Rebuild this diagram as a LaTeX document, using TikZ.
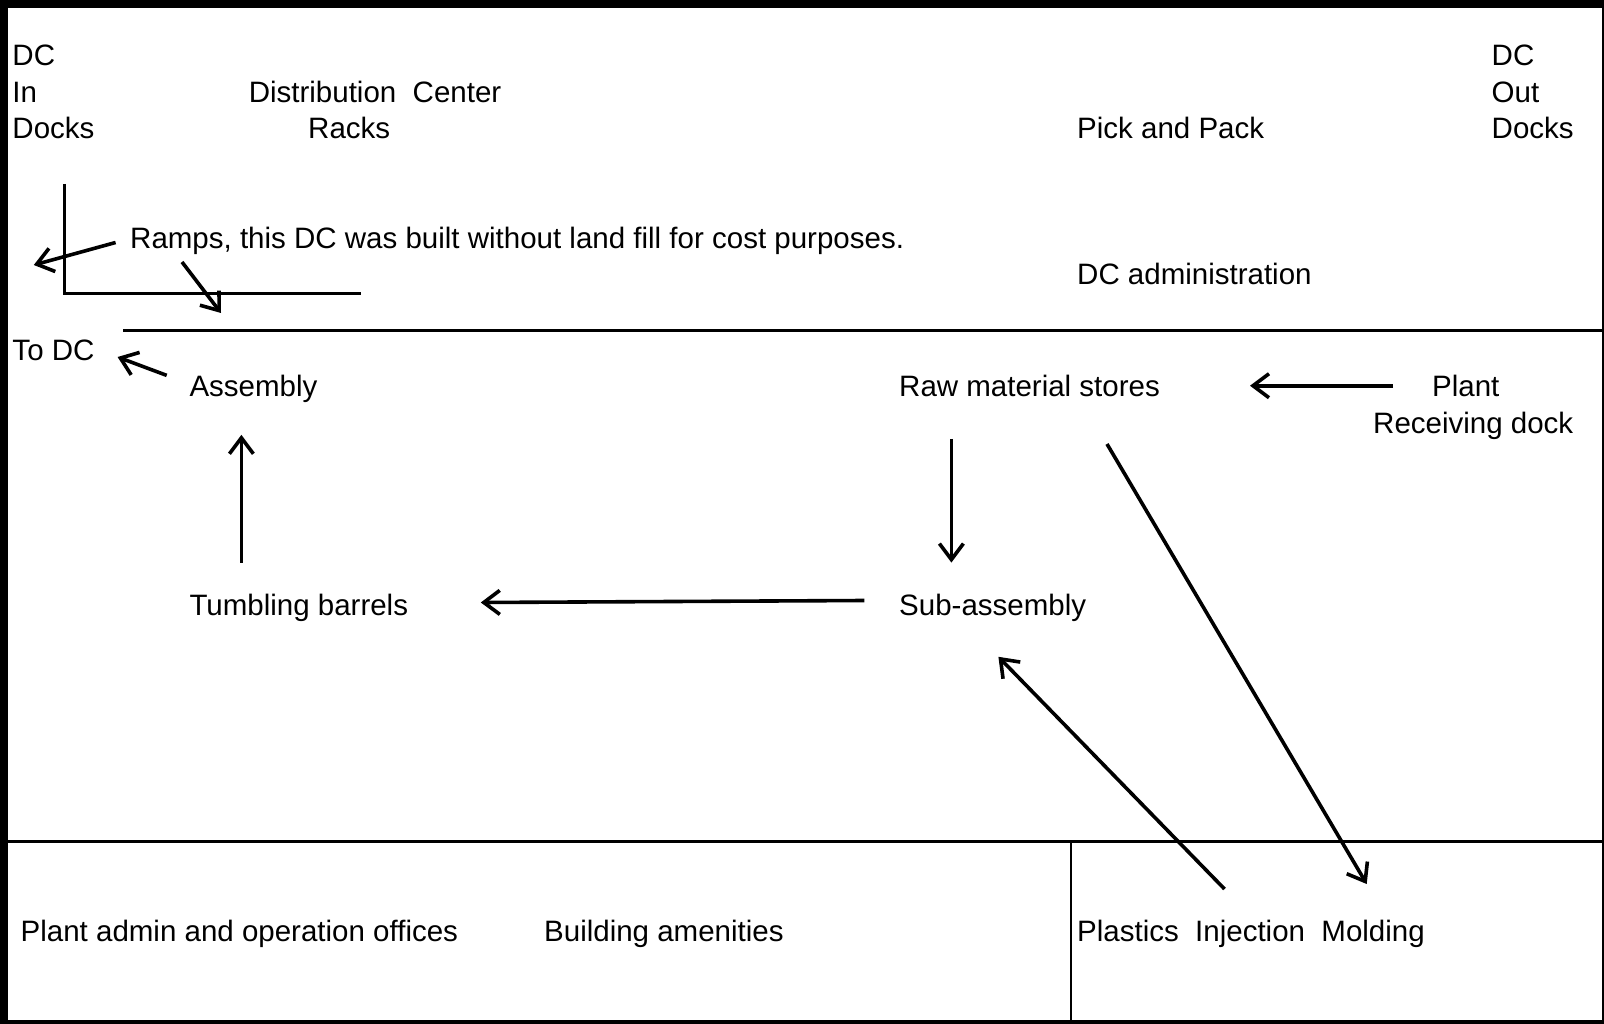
\documentclass[tikz,border=0pt]{standalone}
\usepackage{fontspec}
\setmainfont{Liberation Sans}
\usetikzlibrary{arrows.meta}
\begin{document}
\begin{tikzpicture}[x=1pt,y=-1pt,
  lbl/.style={anchor=base west,inner sep=0pt,font=\fontsize{29.5}{34}\selectfont},
  wall/.style={line width=3pt},
  flow/.style={line width=3.6pt,-{Straight Barb[length=16pt,width=24pt,line width=3.6pt]}}]
  \useasboundingbox (0,0) rectangle (1604,1024);
  \clip (0,0) rectangle (1604,1024);
  % outer building wall
  \draw[line width=8pt] (4,4) rectangle (1606,1024);
  % inner walls
  \draw[wall] (123,330.5) -- (1604,330.5);
  \draw[wall] (0,841.3) -- (1604,841.3);
  \draw[line width=2.6pt] (1071,841) -- (1071,1024);
  % ramp outline
  \draw[line width=2.8pt] (64.5,184) -- (64.5,293.6) -- (361,293.6);

  % labels
  \node[lbl] (dcin1) at (12.3,66) {DC};
  \node[lbl] (dcin2) at (12.3,102.5) {In};
  \node[lbl] (dcin3) at (12.3,138.5) {Docks};
  \node[lbl] (dist) at (248.6,102.5) {Distribution\ \ Center};
  \node[lbl] (racks) at (308,138.5) {Racks};
  \node[lbl] (pick) at (1077,138.5) {Pick and Pack};
  \node[lbl] (dcout1) at (1491.5,66) {DC};
  \node[lbl] (dcout2) at (1491.5,102.5) {Out};
  \node[lbl] (dcout3) at (1491.5,138.5) {Docks};
  \node[lbl] (ramps) at (130,249) {Ramps, this DC was built without land fill for cost purposes.};
  \node[lbl] (dcadmin) at (1077,285) {DC administration};
  \node[lbl] (todc) at (12.3,360.6) {To DC};
  \node[lbl] (assembly) at (189.3,396.4) {Assembly};
  \node[lbl] (raw) at (899,396.4) {Raw material stores};
  \node[lbl] (plant) at (1432,396.4) {Plant};
  \node[lbl] (recv) at (1373,433) {Receiving dock};
  \node[lbl] (tumbling) at (189.3,615.3) {Tumbling barrels};
  \node[lbl] (sub) at (899,615.3) {Sub-assembly};
  \node[lbl] (offices) at (20.5,941.6) {Plant admin and operation offices};
  \node[lbl] (amenities) at (544,941.6) {Building amenities};
  \node[lbl] (plastics) at (1077,941.6) {Plastics\ \ Injection\ \ Molding};

  % connector end points
  \coordinate (r1s) at (115.6,242.5);  \coordinate (r1e) at (33.8,265);
  \coordinate (r2s) at (182,262);      \coordinate (r2e) at (221,313);
  \coordinate (tds) at (166.7,375.4);  \coordinate (tde) at (117.6,357);
  \coordinate (tbs) at (241.4,562.6);  \coordinate (tbe) at (241.4,434.8);
  \coordinate (sas) at (864.4,600.5);  \coordinate (sae) at (480.8,602.5);
  \coordinate (rms) at (951.4,438.9);  \coordinate (rme) at (951.4,562.6);
  \coordinate (pls) at (1393,385.7);   \coordinate (ple) at (1250,385.7);
  \coordinate (mos) at (1107,444);     \coordinate (moe) at (1366.7,884);
  \coordinate (pis) at (1224.5,889);   \coordinate (pie) at (998.4,656.8);

  % material flow
  \draw[flow] (r1s) -- (r1e);
  \draw[flow] (r2s) -- (r2e);
  \draw[flow] (tds) -- (tde);
  \draw[flow] (tbs) -- (tbe);
  \draw[flow] (sas) -- (sae);
  \draw[flow] (rms) -- (rme);
  \draw[flow] (pls) -- (ple);
  \draw[flow] (mos) -- (moe);
  \draw[flow] (pis) -- (pie);
\end{tikzpicture}
\end{document}
